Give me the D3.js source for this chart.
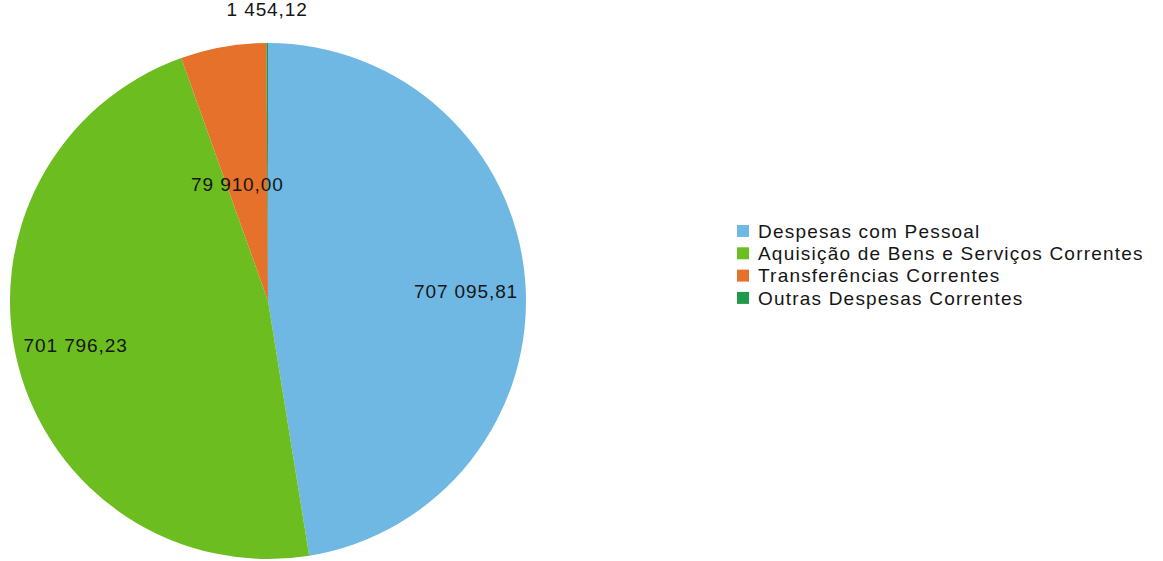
<!DOCTYPE html>
<html>
<head>
<meta charset="utf-8">
<script src="https://cdnjs.cloudflare.com/ajax/libs/d3/7.8.5/d3.min.js"></script>
<style>
body { margin: 0; background: #fff; }
text { font-family: "Liberation Sans", Arial, sans-serif; fill: #151515; }
</style>
</head>
<body>
<div id="chart"></div>
<script>
var svgWidth = 1163;
var svgHeight = 561;

// chart data
var categories = ["Despesas com Pessoal", "Aquisição de Bens e Serviços Correntes", "Transferências Correntes", "Outras Despesas Correntes"];
var values = [707095.81, 701796.23, 79910.00, 1454.12];
var valueLabels = ["707 095,81", "701 796,23", "79 910,00", "1 454,12"];
var colors = ["#6fb8e3", "#6cbd1f", "#e6712b", "#1f9a4a"];

var cx = 268, cy = 301, radius = 258;

var svg = d3.select("#chart")
    .append("svg")
    .attr("width", svgWidth)
    .attr("height", svgHeight);

var pieGroup = svg.append("g")
    .attr("transform", `translate(${cx},${cy})`);

var pie = d3.pie().sort(null).value(d => d);
var arcs = pie(values);
var arc = d3.arc().innerRadius(0).outerRadius(radius);

pieGroup.selectAll("path")
    .data(arcs)
    .enter()
    .append("path")
    .attr("d", arc)
    .attr("fill", (d, i) => colors[i]);

// label placement: radius fraction + small nudges
var labelR = [0.77, 0.77, 0.46, 1.13];
var nudgeX = [0, 0, -10, 0];
var nudgeY = [6, -5, 0, 0];
function labelPos(d, i) {
    var a = (d.startAngle + d.endAngle) / 2;
    return [Math.sin(a) * radius * labelR[i] + nudgeX[i], -Math.cos(a) * radius * labelR[i] + nudgeY[i]];
}
pieGroup.selectAll("text.lbl")
    .data(arcs)
    .enter()
    .append("text")
    .attr("class", "lbl")
    .attr("text-anchor", "middle")
    .attr("dy", "0.35em")
    .style("font-size", "19px")
    .style("letter-spacing", "0.9px")
    .attr("x", (d, i) => labelPos(d, i)[0])
    .attr("y", (d, i) => labelPos(d, i)[1])
    .text((d, i) => valueLabels[i]);

// legend
var legend = svg.append("g")
    .attr("transform", "translate(737,231)");

var rows = legend.selectAll("g")
    .data(categories)
    .enter()
    .append("g")
    .attr("transform", (d, i) => `translate(0,${i * 22.3})`);

rows.append("rect")
    .attr("x", 0)
    .attr("y", -6)
    .attr("width", 12)
    .attr("height", 12)
    .attr("fill", (d, i) => colors[i]);

rows.append("text")
    .attr("x", 21)
    .attr("dy", "0.35em")
    .style("font-size", "19px")
    .style("letter-spacing", "1.2px")
    .text(d => d);
</script>
</body>
</html>
